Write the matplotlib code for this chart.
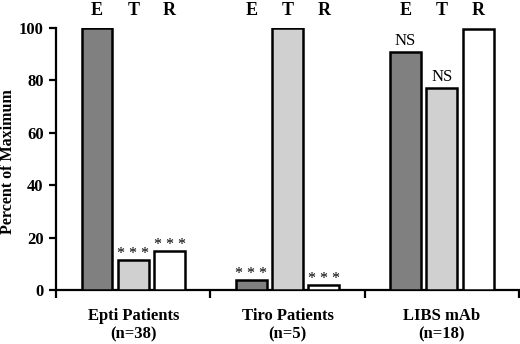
import numpy as np
import matplotlib
matplotlib.use("Agg")
import matplotlib.pyplot as plt

groups = ["Epti Patients\n(n=38)", "Tiro Patients\n(n=5)", "LIBS mAb\n(n=18)"]
series = ["E", "T", "R"]
E_vals = [100, 3.8, 90.8]
T_vals = [11.5, 100, 77]
R_vals = [14.9, 1.8, 99.6]
E_marks = ["", "***", "NS"]
T_marks = ["***", "", "NS"]
R_marks = ["***", "***", ""]

colors = ["#808080", "#d0d0d0", "#ffffff"]

plt.rcParams['font.family'] = ['Liberation Serif', 'DejaVu Serif']

fig = plt.figure(figsize=(5.2, 3.44), dpi=100)
ax = fig.add_axes([0.108, 0.157, 0.89, 0.762])

x = np.arange(len(groups)) + 0.5
offsets = [-0.235, 0.0, 0.235]
width = 0.2
vals = [E_vals, T_vals, R_vals]
marks = [E_marks, T_marks, R_marks]

for i in range(3):
    ax.bar(x + offsets[i], vals[i], width, color=colors[i], edgecolor="black",
           linewidth=1.8, zorder=3)
    for j in range(3):
        m = marks[i][j]
        if m == "NS":
            ax.text(x[j] + offsets[i], vals[i][j] + 1.2, m, ha="center", va="bottom",
                    fontsize=12, zorder=4)
        elif m:
            ax.text(x[j] + offsets[i], vals[i][j] - 0.8, " ".join(m), ha="center",
                    va="bottom", fontsize=11.5, zorder=4)
        ax.text(x[j] + offsets[i], 106.8, series[i], ha="center", va="center",
                fontsize=13, fontweight="bold", clip_on=False)

ax.set_xlim(0, 3)
ax.set_ylim(0, 100)
ax.set_yticks([0, 20, 40, 60, 80, 100])
ax.set_xticks(x)
ax.set_xticklabels(groups, fontsize=12, fontweight="bold", linespacing=1.2)
ax.set_xticks([0, 1, 2, 3], minor=True)
ax.tick_params(axis="x", which="major", length=0, pad=13)
ax.tick_params(axis="x", which="minor", length=6, width=1.6, direction="out")
ax.tick_params(axis="y", length=5, width=1.6, direction="out", labelsize=12, pad=4)
for lab in ax.get_yticklabels():
    lab.set_fontweight("bold")
ax.set_ylabel("Percent of Maximum", fontsize=11.5, fontweight="bold",
              va="center", ha="center")
ax.yaxis.set_label_coords(-0.104, 0.49)

for s in ["top", "right"]:
    ax.spines[s].set_visible(False)
for s in ["left", "bottom"]:
    ax.spines[s].set_linewidth(1.6)

fig.savefig("out.png", dpi=100)
